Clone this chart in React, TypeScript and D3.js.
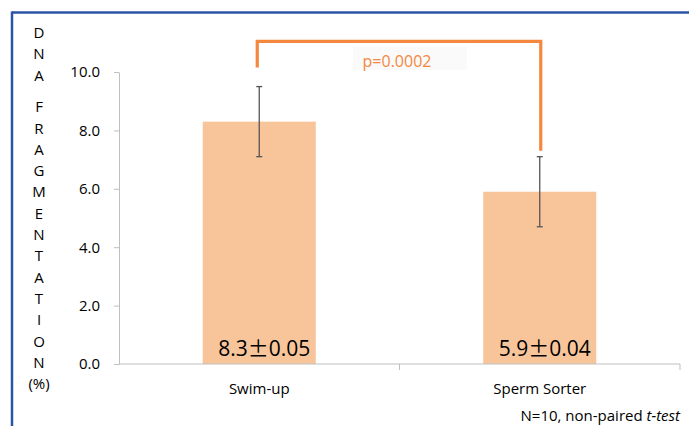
import React from "react";
import * as d3 from "d3";

const categories = ["Swim-up", "Sperm Sorter"];
const means = [8.3, 5.9];
const errors = [1.2, 1.2];
const valueMain = ["8.3", "5.9"];
const valueErr = ["0.05", "0.04"];
const yTicks = [0, 2, 4, 6, 8, 10];
const yLabelLetters = ["D", "N", "A", "", "F", "R", "A", "G", "M", "E", "N", "T", "A", "T", "I", "O", "N", "(%)"];
// bracket levels in data units: top line, then the end of each leg
const bracketTop = 11.05;
const bracketEnds = [10.15, 7.3];
const pLabel = "p=0.0002";

const FONT = "'Open Sans', 'DejaVu Sans', sans-serif";
const ORANGE = "#f4883f";

export default function App() {
  const svgRef = React.useRef<SVGSVGElement>(null);
  const width = 689;
  const height = 426;

  React.useEffect(() => {
    document.body.style.margin = "0";
    const svgEl = d3.select(svgRef.current);
    svgEl.selectAll("*").remove();

    const y = d3.scaleLinear().domain([0, 10]).range([364, 72]);
    const x = d3.scaleBand().domain(categories).range([119, 680]);
    const barW = x.bandwidth() * 0.403;
    const cx = (c: string) => (x(c) as number) + x.bandwidth() / 2;

    const svg = svgEl.append("g").style("font-family", FONT);

    // frame (blue lines top and left)
    svg.append("line").attr("x1", 12).attr("x2", width).attr("y1", 12.5).attr("y2", 12.5)
      .attr("stroke", "#2d55a5").attr("stroke-width", 2.5);
    svg.append("line").attr("x1", 12).attr("x2", 12).attr("y1", 11.5).attr("y2", height)
      .attr("stroke", "#2d55a5").attr("stroke-width", 2.5);

    // bars
    svg.selectAll("rect.bar")
      .data(categories)
      .enter()
      .append("rect")
      .attr("class", "bar")
      .attr("x", (d) => cx(d) - barW / 2)
      .attr("width", barW)
      .attr("y", (d, i) => y(means[i]))
      .attr("height", (d, i) => y(0) - y(means[i]))
      .attr("fill", "#f8c59b");

    // y axis
    const yAxis = d3.axisLeft(y).tickValues(yTicks).tickFormat(d3.format(".1f"))
      .tickSize(5).tickSizeOuter(0).tickPadding(14);
    const yG = svg.append("g").attr("transform", "translate(119,0)").call(yAxis);
    yG.select(".domain").attr("stroke", "#bfbfbf");
    yG.selectAll(".tick line").attr("stroke", "#bfbfbf");
    yG.selectAll(".tick text").attr("fill", "#000").style("font-family", FONT).style("font-size", "15px");

    // x axis: labels from the band axis, ticks on band edges
    const xAxis = d3.axisBottom(x).tickSize(0).tickPadding(19);
    const xG = svg.append("g").attr("transform", `translate(0,${y(0)})`).call(xAxis);
    xG.select(".domain").remove();
    xG.selectAll(".tick text").attr("fill", "#000").style("font-family", FONT).style("font-size", "15px");
    svg.append("line").attr("x1", 119).attr("x2", 680).attr("y1", y(0)).attr("y2", y(0))
      .attr("stroke", "#bfbfbf");
    const edges = categories.map((c) => (x(c) as number) + x.bandwidth());
    svg.selectAll("line.edge")
      .data(edges)
      .enter()
      .append("line")
      .attr("class", "edge")
      .attr("x1", (d) => d).attr("x2", (d) => d)
      .attr("y1", y(0)).attr("y2", y(0) + 6)
      .attr("stroke", "#bfbfbf");

    // error bars
    const eb = svg.selectAll("g.err").data(categories).enter().append("g").attr("class", "err")
      .attr("stroke", "#555").attr("stroke-width", 1.3);
    eb.append("line")
      .attr("x1", (d) => cx(d)).attr("x2", (d) => cx(d))
      .attr("y1", (d, i) => y(means[i] + errors[i]))
      .attr("y2", (d, i) => y(means[i] - errors[i]));
    eb.append("line")
      .attr("x1", (d) => cx(d) - 3).attr("x2", (d) => cx(d) + 3)
      .attr("y1", (d, i) => y(means[i] + errors[i])).attr("y2", (d, i) => y(means[i] + errors[i]));
    eb.append("line")
      .attr("x1", (d) => cx(d) - 3).attr("x2", (d) => cx(d) + 3)
      .attr("y1", (d, i) => y(means[i] - errors[i])).attr("y2", (d, i) => y(means[i] - errors[i]));

    // value labels inside bars
    const vl = svg.selectAll("text.val")
      .data(categories)
      .enter()
      .append("text")
      .attr("class", "val")
      .attr("x", (d) => cx(d) + 5)
      .attr("y", y(0) - 8)
      .attr("text-anchor", "middle")
      .style("font-size", "21px")
      .attr("fill", "#000");
    vl.append("tspan").text((d, i) => valueMain[i]);
    vl.append("tspan").style("font-family", "'Noto Sans CJK JP', sans-serif").text("\u00b1");
    vl.append("tspan").text((d, i) => valueErr[i]);

    // significance bracket
    const x0 = cx(categories[0]) - 2;
    const x1 = cx(categories[1]) + 1;
    svg.append("path")
      .attr("d", `M${x0},${y(bracketEnds[0])}V${y(bracketTop)}H${x1}V${y(bracketEnds[1])}`)
      .attr("fill", "none")
      .attr("stroke", ORANGE)
      .attr("stroke-width", 3.2);
    const midX = (x0 + x1) / 2;
    svg.append("rect")
      .attr("x", midX - 46).attr("y", 47).attr("width", 114).attr("height", 23)
      .attr("fill", "#fafafa");
    svg.append("text")
      .attr("x", midX - 2)
      .attr("y", y(bracketTop) + 26)
      .attr("text-anchor", "middle")
      .style("font-size", "16px")
      .attr("fill", ORANGE)
      .text(pLabel);

    // vertical y label, one letter per line
    svg.selectAll("text.ylab")
      .data(yLabelLetters)
      .enter()
      .append("text")
      .attr("class", "ylab")
      .attr("x", 39)
      .attr("y", (d, i) => 38 + i * 21.3 - (i > 3 ? 11 : 0))
      .attr("text-anchor", "middle")
      .style("font-size", "15px")
      .attr("fill", "#000")
      .text((d) => d);

    // footnote
    const fn = svg.append("text")
      .attr("x", 680)
      .attr("y", 421)
      .attr("text-anchor", "end")
      .style("font-size", "15px")
      .attr("fill", "#000");
    fn.append("tspan").text("N=10, non-paired ");
    fn.append("tspan").style("font-style", "italic").text("t-test");
  }, []);

  return <svg ref={svgRef} width={width} height={height} style={{ display: "block", background: "#fff" }} />;
}
